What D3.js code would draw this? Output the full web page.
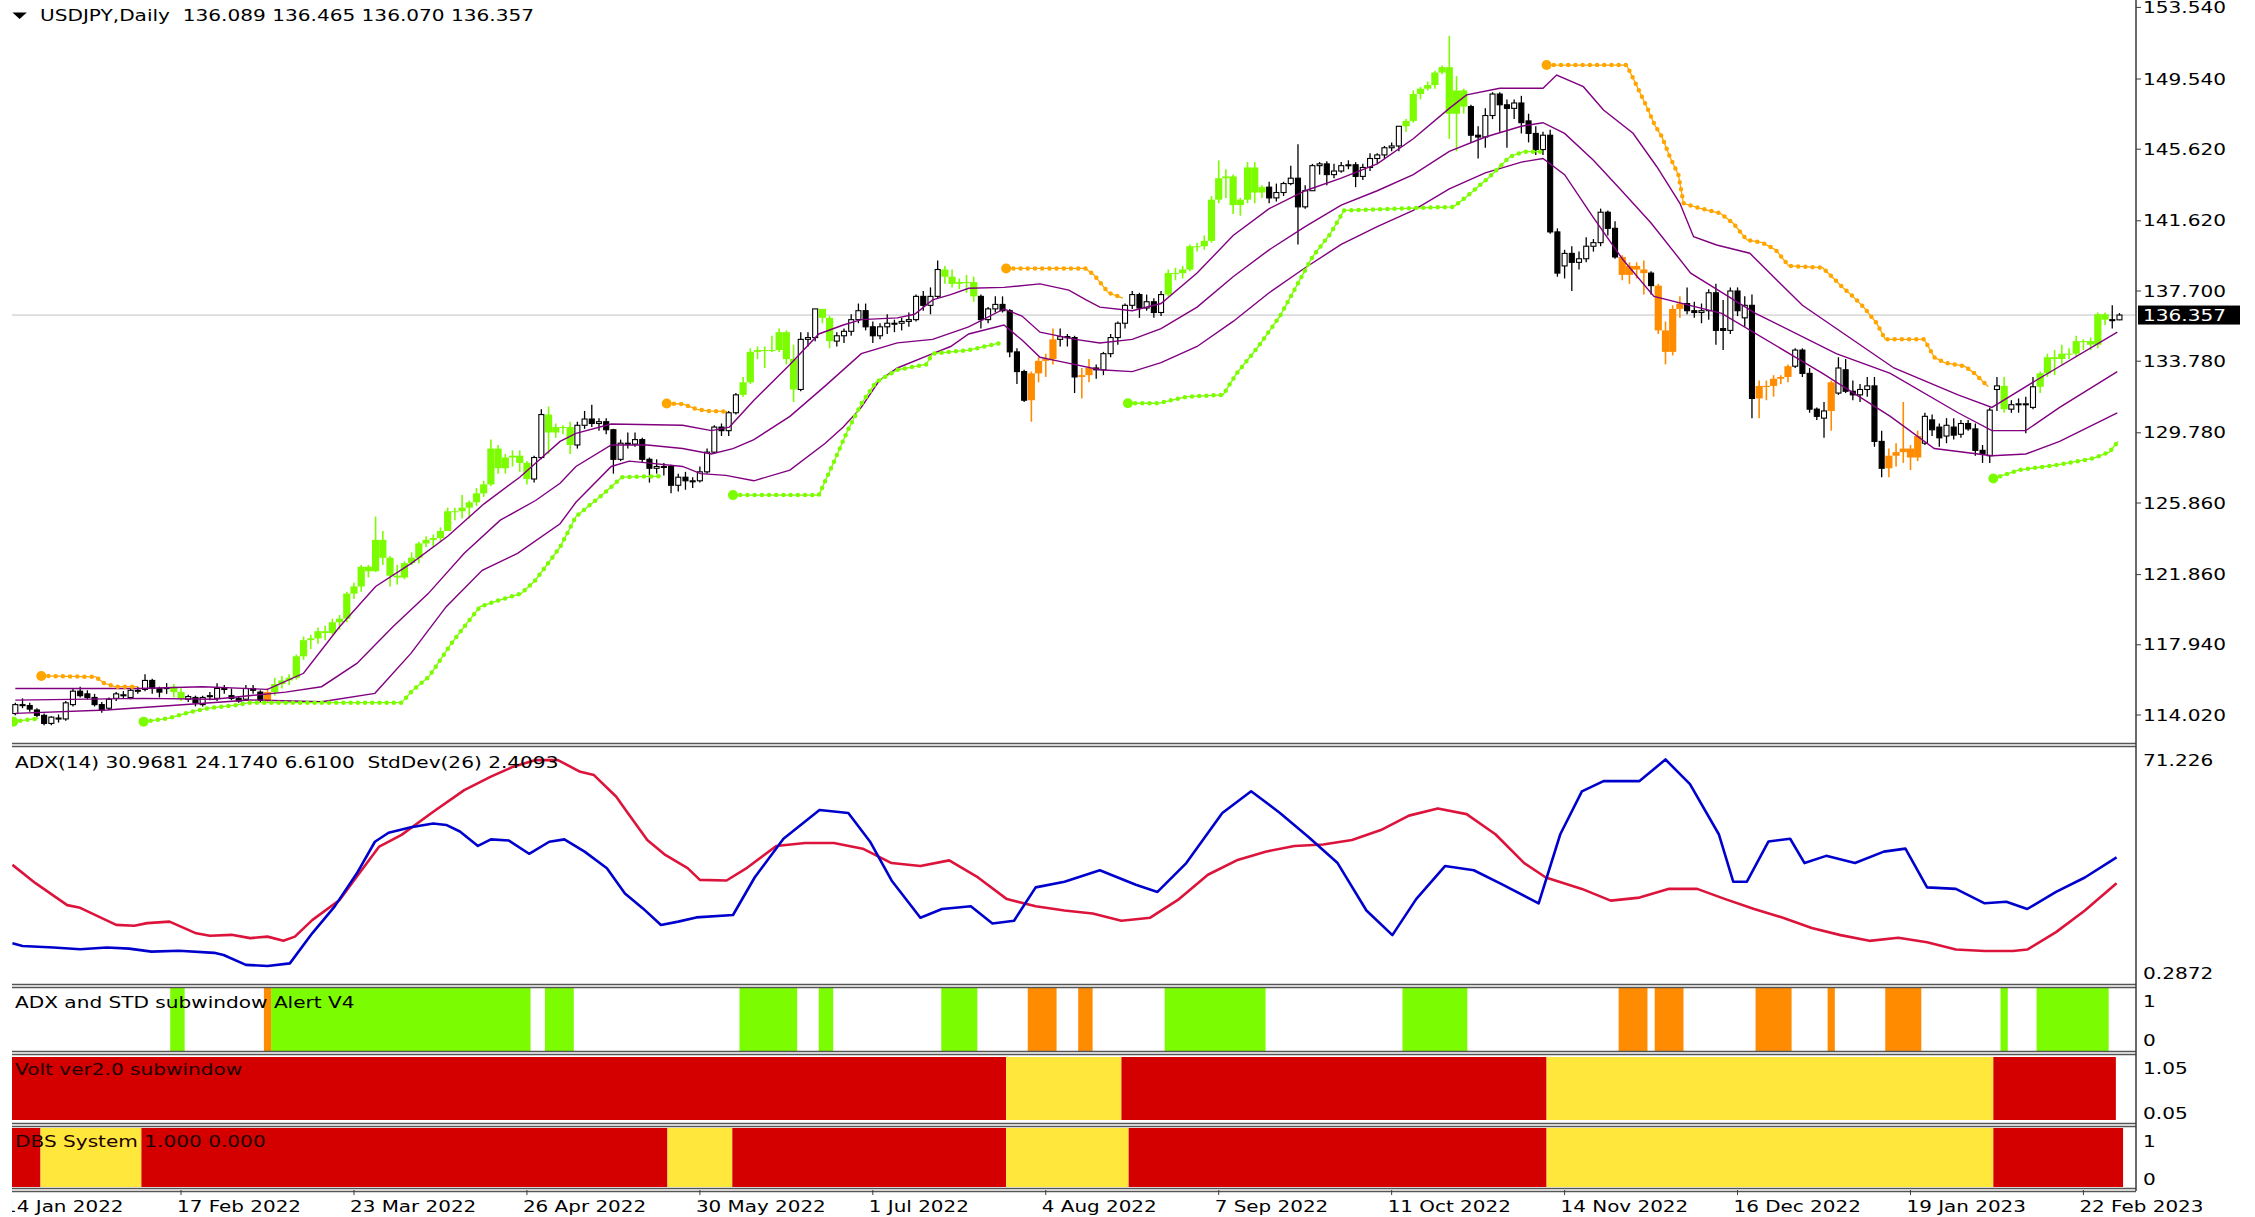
<!DOCTYPE html>
<html lang="en">
<head>
<meta charset="UTF-8">
<title>USDJPY,Daily</title>
<script src="https://d3js.org/d3.v7.min.js"></script>
<style>
  body { margin: 0; background: #fff; }
  svg text { font-family: "DejaVu Sans", Verdana, sans-serif; white-space: pre; }
</style>
</head>
<body>
<div id="chart"></div>
<script>
// ---- price bars, first bar index = 1 (17 Jan 2022), last = 293 (1 Mar 2023)
const opens = [
114.10,114.60,114.55,114.30,114.00,113.55,113.85,113.80,114.60,115.35,
115.20,115.00,114.60,114.40,114.95,115.15,115.00,115.40,115.45,115.95,
115.50,115.50,115.60,115.30,114.90,115.00,114.60,115.10,114.95,115.50,
115.10,114.95,114.90,115.50,115.30,114.85,115.30,115.75,115.95,116.10,
117.30,118.20,118.30,118.70,118.60,119.20,119.40,120.80,121.20,122.30,
122.05,123.80,122.80,121.80,121.70,122.50,122.80,123.60,123.80,123.90,
124.30,125.40,125.40,125.60,125.90,126.40,126.90,128.90,127.80,128.40,
128.50,128.10,127.20,128.40,130.80,129.80,130.10,130.10,129.10,130.20,
130.55,130.30,130.40,129.95,128.30,129.20,129.15,129.40,128.30,127.80,
127.90,127.90,126.85,127.30,127.10,127.10,127.60,128.70,130.10,129.90,
130.90,131.90,132.60,134.30,134.40,134.40,134.40,135.40,133.90,132.20,
135.00,135.10,136.70,136.20,134.90,135.20,135.45,136.10,136.60,135.70,
135.20,135.70,135.90,135.90,136.00,136.10,137.40,136.90,137.40,138.90,
138.50,138.10,138.20,138.20,137.40,136.10,136.70,136.95,136.60,134.30,
133.20,131.60,133.10,133.80,133.90,135.00,135.15,135.10,132.90,133.00,
133.40,133.30,134.20,135.10,135.90,136.90,137.50,136.75,137.10,136.50,
137.50,138.70,138.70,138.90,140.20,140.20,140.50,142.80,144.00,144.10,
142.50,142.80,144.60,143.20,143.50,142.90,143.20,143.70,144.00,142.40,
143.30,144.70,144.80,144.20,144.40,144.70,144.75,144.10,144.60,145.10,
145.30,145.70,145.80,146.90,147.20,148.70,149.00,149.20,149.90,150.20,
147.60,148.90,148.00,146.40,146.30,147.50,148.70,148.10,147.90,148.20,
147.20,146.50,145.60,146.40,141.00,139.10,139.80,139.30,139.50,140.20,
140.40,142.10,141.20,139.60,138.60,139.10,138.90,138.70,138.00,135.50,
134.30,136.70,137.00,136.60,136.50,136.60,137.60,135.60,135.50,137.70,
136.20,136.90,131.70,132.40,132.40,132.80,132.90,133.50,134.40,133.10,
131.10,130.60,131.00,132.00,133.30,132.10,131.90,132.20,132.40,129.30,
127.80,128.50,128.70,128.90,128.40,129.20,130.50,130.10,129.60,130.10,
129.70,130.30,130.00,128.80,128.50,132.20,132.40,131.10,131.35,131.40,
131.20,132.35,133.10,134.00,133.90,134.20,134.20,134.90,134.90,134.70,
136.40,136.10,136.089];
const highs = [
114.70,114.95,114.70,114.40,114.10,113.95,114.05,114.80,115.50,115.60,
115.40,115.20,114.75,115.00,115.30,115.35,115.50,115.60,116.30,116.05,
115.60,115.80,115.75,115.50,115.15,115.10,115.10,115.30,115.80,115.70,
115.50,115.05,115.70,115.70,115.40,115.50,116.10,116.20,116.30,117.40,
118.40,118.50,118.90,119.00,119.40,119.60,120.90,121.40,122.40,122.40,
125.10,124.30,122.90,122.40,122.60,123.10,123.70,124.00,124.10,124.50,
125.60,125.60,126.30,126.00,126.70,127.10,129.40,129.10,128.60,128.80,
128.80,128.20,128.50,131.10,131.25,130.30,130.20,130.40,130.40,131.00,
131.35,130.60,130.60,130.00,129.40,129.80,129.80,129.50,128.40,128.30,
128.10,128.00,127.50,127.60,127.30,127.90,128.90,130.20,130.30,131.00,
132.00,132.90,134.50,134.60,134.60,135.20,135.60,135.50,134.70,135.40,
135.40,136.70,136.70,136.30,135.40,135.60,136.40,137.00,137.00,136.00,
135.90,136.40,136.10,136.20,136.50,137.50,137.70,137.90,139.40,139.10,
138.90,138.40,138.60,138.50,137.50,136.80,137.40,137.40,136.70,134.50,
133.30,133.20,134.00,134.20,135.60,135.60,135.30,135.20,133.40,133.90,
133.60,134.30,135.30,136.00,137.00,137.70,137.60,137.50,137.30,137.70,
138.90,139.00,139.10,140.30,140.40,140.80,143.00,144.99,144.50,144.20,
142.90,144.90,144.90,143.60,143.80,143.70,143.80,144.70,145.90,143.60,
144.80,144.90,144.95,144.80,144.90,145.00,144.90,144.80,145.40,145.40,
145.80,146.00,146.90,147.30,148.90,149.10,149.40,150.00,150.30,151.95,
149.70,149.00,148.10,146.90,147.90,148.80,148.80,148.40,148.40,148.60,
147.60,146.90,146.60,146.70,141.20,140.00,140.20,139.90,140.70,140.60,
142.30,142.20,141.60,139.70,139.30,139.30,139.40,138.80,138.10,136.00,
136.90,137.40,137.90,137.10,137.00,137.80,138.10,137.20,137.90,137.90,
137.40,137.50,132.70,132.70,133.00,133.00,133.60,134.50,134.50,133.40,
131.20,131.50,132.70,134.00,133.90,132.70,132.50,132.90,132.90,129.90,
128.90,129.20,131.50,129.10,129.90,130.90,130.80,130.30,130.60,130.60,
130.50,130.50,130.30,129.10,131.20,132.90,132.90,131.60,131.70,131.80,
132.90,133.20,134.20,134.40,134.70,134.50,135.20,135.00,135.10,136.50,
136.50,136.90,136.465];
const lows = [
114.00,114.40,114.20,113.90,113.45,113.45,113.60,113.70,114.50,115.00,
114.90,114.50,114.15,114.30,114.80,114.95,114.90,115.20,115.35,115.20,
115.00,115.20,115.00,114.80,114.75,114.50,114.50,114.85,114.80,115.20,
114.85,114.70,114.80,115.20,114.70,114.70,115.10,115.50,115.70,116.00,
117.10,117.70,118.00,118.20,118.50,118.80,119.20,120.50,120.90,121.70,
122.00,122.40,121.20,121.30,121.60,122.40,122.50,123.40,123.40,123.70,
124.30,124.90,125.00,125.00,125.70,126.20,126.80,127.50,127.50,127.90,
127.60,126.90,127.00,128.30,128.60,129.50,129.70,128.60,128.90,130.00,
130.10,129.90,129.70,127.50,128.20,128.90,129.00,128.10,127.00,127.50,
127.40,126.40,126.50,126.60,126.70,127.00,127.50,128.60,129.60,129.60,
130.80,131.80,132.50,133.90,133.40,134.30,134.30,133.60,131.50,132.10,
134.60,134.90,135.90,134.50,134.60,134.80,135.20,135.90,135.50,134.80,
135.00,135.30,135.40,135.50,135.70,136.00,136.60,136.40,137.30,138.10,
137.90,137.80,137.60,137.10,135.60,135.90,136.50,136.50,134.00,132.50,
131.50,130.40,132.60,132.90,133.60,134.60,134.60,132.00,131.70,132.60,
132.80,133.00,134.00,134.70,135.60,136.70,136.20,136.60,136.20,136.30,
137.40,138.30,138.40,138.80,139.90,140.00,140.40,142.60,142.90,142.00,
141.90,142.60,142.60,142.90,142.60,142.70,143.00,143.60,140.30,142.30,
143.30,144.20,143.60,144.00,144.30,144.50,143.50,143.90,144.40,144.80,
145.10,145.50,145.50,146.60,147.10,148.40,148.90,149.00,149.80,146.20,
145.50,147.60,146.00,145.10,145.70,147.30,146.60,145.70,147.30,146.50,
146.00,145.30,145.30,140.90,138.50,138.40,137.70,138.90,139.30,139.90,
140.20,140.80,139.50,138.30,138.10,138.40,137.50,137.50,135.30,133.60,
134.10,136.20,136.40,136.20,135.90,136.10,134.70,134.40,135.30,136.30,
135.70,130.60,130.60,131.60,131.80,132.50,132.60,133.40,132.90,130.90,
130.50,129.50,129.90,131.90,132.00,131.60,131.50,131.80,129.00,127.30,
127.30,127.90,128.10,127.70,128.20,129.10,129.60,129.00,129.20,129.40,
129.50,129.90,128.50,128.10,128.10,131.00,130.90,130.90,130.90,129.75,
131.10,132.00,132.90,133.00,133.60,133.90,134.00,134.40,134.40,134.50,
135.80,135.60,136.070];
const closes = [
114.60,114.60,114.35,114.00,113.55,113.90,113.80,114.70,115.35,115.10,
115.00,114.60,114.30,114.90,115.20,115.15,115.40,115.40,115.95,115.50,
115.30,115.55,115.30,114.95,115.05,114.70,115.00,115.10,115.50,115.50,
114.95,114.80,115.50,115.40,114.85,115.30,115.75,115.95,116.10,117.30,
118.20,118.30,118.70,118.60,119.20,119.40,120.80,121.20,122.30,122.05,
123.80,122.80,121.80,121.70,122.50,122.80,123.60,123.80,123.90,124.30,
125.40,125.40,125.60,125.90,126.40,126.90,128.90,127.80,128.40,128.50,
128.10,127.20,128.40,130.80,129.80,130.10,130.10,129.10,130.20,130.55,
130.30,130.40,129.95,128.30,129.20,129.15,129.40,128.30,127.80,127.90,
127.90,126.85,127.30,127.10,127.10,127.60,128.70,130.10,129.90,130.90,
131.90,132.60,134.30,134.40,134.40,134.40,135.40,133.90,132.20,135.00,
135.10,136.70,136.20,134.90,135.20,135.45,136.10,136.60,135.70,135.20,
135.70,135.90,135.90,136.00,136.10,137.40,136.90,137.40,138.90,138.50,
138.10,138.20,138.20,137.40,136.10,136.70,136.95,136.60,134.30,133.20,
131.60,133.10,133.80,133.90,135.00,135.15,135.10,132.90,133.00,133.40,
133.30,134.20,135.10,135.90,136.90,137.50,136.75,137.10,136.50,137.50,
138.70,138.70,138.90,140.20,140.20,140.50,142.80,144.00,144.10,142.50,
142.80,144.60,143.20,143.50,142.90,143.20,143.70,144.00,142.40,143.30,
144.70,144.80,144.20,144.40,144.70,144.75,144.10,144.60,145.10,145.30,
145.70,145.80,146.90,147.20,148.70,149.00,149.20,149.90,150.20,147.60,
148.90,148.00,146.40,146.30,147.50,148.70,148.10,147.90,148.20,147.10,
146.50,145.60,146.40,141.00,138.70,139.80,139.30,139.50,140.20,140.40,
142.10,141.20,139.60,138.60,139.10,138.90,138.70,138.00,135.50,134.30,
136.70,137.00,136.60,136.50,136.60,137.60,135.50,135.50,137.70,136.60,
136.90,131.70,132.40,132.40,132.80,132.90,133.50,134.40,133.10,131.10,
130.70,131.00,132.60,133.40,132.10,131.90,132.20,132.40,129.30,127.80,
128.50,128.70,128.90,128.40,129.60,130.70,129.95,129.50,130.20,129.65,
130.30,130.00,128.80,128.60,131.05,132.40,131.10,131.35,131.40,131.40,
132.35,133.10,134.00,133.90,134.20,134.20,134.90,134.90,134.70,136.40,
136.10,136.10,136.357];

// candle colouring / alert histogram runs [firstBar, lastBar]
const greenRuns = [[23,24],[37,72],[75,78],[102,109],[113,114],[130,134],[161,174],[194,202],[277,277],[282,291]];
const orangeRuns = [[36,36],[142,145],[149,150],[224,227],[229,232],[243,247],[253,253],[261,265]];

// Volt ver2.0 and DBS System states: 1 = red, 0 = yellow
const voltRuns = [[1,138,1],[139,154,0],[155,213,1],[214,275,0],[276,292,1]];
const dbsRuns = [[1,4,1],[5,18,0],[19,91,1],[92,100,0],[101,138,1],[139,155,0],[156,213,1],[214,275,0],[276,293,1]];

// purple bands [bar, price]
const bandTop = [[1,115.5],[18,115.5],[27,115.6],[36,115.45],[41,116.35],[46,118.95],[51,121.2],[56,122.5],[61,124.0],[66,125.8],[71,127.3],[76.6,129.3],[78.8,129.75],[83.7,130.27],[93.6,130.2],[97.6,129.9],[100.1,130.1],[103.5,131.6],[108.5,133.6],[112.5,135.3],[115.9,135.8],[118.4,136.1],[123.4,136.2],[125.8,136.4],[128.3,137.2],[130.8,137.5],[133.3,137.85],[138.2,137.9],[143.2,138.1],[147.2,137.75],[149.6,137.2],[151.5,136.8],[156,136.6],[160,137.0],[165,138.7],[170,140.8],[175,142.3],[180,143.3],[185,144.0],[190,144.8],[195,146.2],[200,147.9],[202.4,148.65],[207,149.02],[213,149.02],[214.9,149.76],[218.6,149.11],[221.4,147.81],[225.5,146.51],[228.8,144.64],[232,142.6],[233.9,140.73],[237.1,140.27],[241.7,139.81],[249,136.9],[261.7,133.4],[270.6,131.9],[275.3,131.2],[281.4,132.7],[292.7,135.4]];
const bandMid = [[1,114.85],[18.7,114.95],[28.6,114.9],[38.5,115.3],[43.5,115.6],[48.4,116.9],[53.4,118.95],[58.3,120.8],[63.3,123.05],[68.3,124.9],[73.2,126.0],[76.6,126.96],[78.8,127.9],[83.7,129.1],[88.7,129.1],[93.6,128.9],[97.6,128.6],[100.6,128.9],[103.5,129.4],[108.5,130.7],[113.4,132.4],[118.4,134.2],[123.4,134.8],[128.3,135.0],[133.3,135.7],[138.2,136.7],[140.7,136.3],[143.2,135.4],[148.1,135.0],[151.5,134.8],[156,135.0],[160,135.6],[165,136.8],[170,138.5],[175,140.0],[180,141.3],[185,142.5],[190,143.3],[195,144.2],[200,145.5],[205,146.3],[210,146.9],[213,147.1],[216,146.5],[220,145.0],[223.7,143.4],[228,141.5],[233.5,138.7],[242.5,136.45],[253.7,134.2],[261.2,133.1],[270.6,130.9],[275.3,129.9],[280,129.9],[284.7,131.2],[292.7,133.2]];
const bandBot = [[1,114.11],[13.7,114.3],[23.7,114.58],[33.6,114.86],[43.5,114.76],[50.9,115.23],[55.9,117.46],[60.8,120.07],[65.8,122.1],[70.7,123.05],[76.6,124.7],[78.8,125.9],[83.7,127.9],[86.2,128.2],[88.7,128.1],[93.6,127.9],[96.1,127.5],[99.6,127.4],[103.5,127.1],[108.5,127.7],[113.4,129.2],[115.9,130.1],[118.4,131.2],[120.9,132.7],[123.4,133.4],[128.3,134.2],[130.8,134.6],[133.3,135.3],[138.2,135.8],[140.7,134.96],[143.2,134.0],[145.6,133.8],[151.5,133.3],[156,133.2],[160,133.7],[165,134.6],[170,136.0],[175,137.6],[180,139.0],[185,140.3],[190,141.3],[195,142.2],[200,143.4],[205,144.3],[210,144.9],[213,145.1],[216,144.2],[220,141.8],[224,139.5],[228.4,137.4],[237.8,136.45],[251.8,133.1],[261.2,130.7],[267.3,128.9],[275.3,128.5],[280,128.6],[284.7,129.3],[292.7,130.9]];

// trailing stop dots: below price (green) and above price (orange)
const stopUp = [
  [[0.7,113.65],[4.2,113.83]],
  [[18.8,113.65],[22.2,113.83],[25.4,114.2],[27.6,114.39],[31.8,114.58],[33.4,114.71],[54.6,114.71],[56.2,115.42],[58.4,116.16],[61.5,118.0],[63.3,118.95],[65.5,120.07],[68.2,120.44],[71.2,120.8],[73.2,121.56],[76.6,123.4],[78.8,125.1],[82.7,126.4],[85.2,127.3],[90.6,127.36]],
  [[100.6,126.3],[112.5,126.3],[114.5,128.07],[116.5,129.9],[118.4,131.4],[120.4,132.6],[123.4,133.3],[127.4,133.6],[128.3,134.2],[133.3,134.4],[137.7,134.8]],
  [[155.4,131.43],[159.6,131.43],[163.6,131.8],[168.6,131.9],[170.5,133.1],[173.5,134.6],[176.5,136.3],[178.5,137.76],[181,139.6],[183.5,140.9],[185.4,142.2],[200.6,142.4],[202.4,142.97],[205.6,144.08],[208.4,145.2],[210.3,145.48],[212.8,145.48]],
  [[275.5,127.23],[279,127.7],[284.6,128.0],[289.3,128.35],[291.6,128.7],[292.8,129.3]]
];
const stopDown = [
  [[4.6,116.2],[12.2,116.15],[13.2,115.82],[14.8,115.6],[18.0,115.6]],
  [[91.4,131.42],[93.6,131.39],[94.6,131.24],[95.6,131.09],[97.1,131.0],[99.8,130.96]],
  [[138.5,138.96],[149.5,138.96],[150.7,138.6],[152.7,137.6],[154.7,137.3]],
  [[213.5,150.32],[224.6,150.32],[225.5,149.58],[226.5,148.74],[227.6,147.81],[228.5,146.97],[229.5,146.32],[230.6,145.2],[231.8,144.18],[232.5,142.6],[234.8,142.32],[237.6,142.04],[239.4,141.48],[241.3,140.55],[243.4,140.4],[245.3,140.0],[247.1,139.1],[251.8,139.0],[254.6,137.9],[256,137.4],[257.5,136.8],[259.3,135.9],[260.5,135.0],[265.9,135.0],[267.3,134.0],[268.7,133.7],[271.5,133.5],[272.9,133.1],[274.8,132.35]]
];

// ADX subwindow lines [bar, value]
const adxRed = [[0.6,36.3],[3.8,30.2],[8.2,22.9],[10,22.0],[15,16.3],[17.5,16.0],[19.3,16.9],[22.4,17.4],[26.1,13.5],[28,12.7],[31,13.0],[33.6,11.9],[36,12.4],[38.2,11.0],[39.8,12.4],[42.2,17.9],[46,24.6],[48.4,32.4],[51.5,42.4],[54.6,46.3],[59,54.0],[63.3,61.2],[67,65.7],[70.1,69.0],[73.2,71.2],[76.3,71.2],[79.4,67.3],[81.3,66.2],[84.4,59.0],[85.7,54.6],[88.7,44.6],[91.2,39.6],[94.3,35.2],[96,31.3],[99.7,31.1],[102.6,35.4],[106.6,42.6],[110.6,43.6],[114.6,43.6],[118.6,41.7],[122.6,36.9],[126.6,35.9],[130.6,37.8],[134.6,32.1],[138.6,24.9],[142.6,22.5],[146.6,21.1],[150.5,20.1],[154.5,17.7],[158.5,18.7],[162.5,24.9],[166.5,33.0],[170.5,37.8],[174.5,40.7],[178.5,42.6],[182.5,43.1],[186.5,44.6],[190.5,47.9],[194.4,52.7],[198.4,55.1],[202.4,53.2],[206.4,46.5],[210.4,36.9],[213.4,32.1],[218.4,28.3],[222.4,24.4],[226.4,25.4],[230.4,28.3],[234.4,28.3],[238.3,24.9],[242.3,21.6],[246.3,18.7],[250.3,15.3],[254.3,12.9],[258.3,11.0],[262.3,12.0],[266.3,10.5],[270.3,8.1],[274.3,7.6],[278.2,7.6],[280.2,8.1],[284.2,13.9],[288.2,21.1],[292.6,30.2]];
const adxBlue = [[0.6,10.2],[2,9.3],[6.3,8.8],[10,8.2],[13.7,8.8],[16.8,8.4],[19.9,7.4],[23.7,7.7],[28.6,7.0],[29.9,6.3],[33,3.0],[36,2.6],[39.1,3.5],[42.2,13.5],[45.3,22.4],[48.4,33.5],[50.9,44.0],[52.8,47.0],[55.9,48.8],[59,50.1],[60.8,49.6],[62.7,47.4],[65.2,42.6],[67,44.8],[69.5,44.4],[72.3,40.0],[75.1,44.0],[77.2,44.8],[80,40.7],[83.1,35.2],[85.6,26.8],[88.1,21.8],[90.6,16.3],[93,17.4],[95.5,18.8],[100.6,19.6],[103.6,32.1],[107.6,45.0],[112.6,54.6],[116.6,53.6],[119.6,44.1],[122.6,31.1],[126.6,18.7],[129.6,21.6],[133.6,22.5],[136.6,16.8],[139.6,17.7],[142.6,28.8],[146.6,30.7],[151.5,34.5],[156.5,29.7],[159.5,27.3],[163.5,36.9],[168.5,53.6],[172.5,60.8],[176.5,53.6],[180.5,45.5],[184.5,36.9],[188.5,21.1],[192.1,12.9],[195.4,24.9],[199.4,35.9],[203.4,34.5],[207.4,29.7],[212.4,23.5],[215.4,46.5],[218.4,60.8],[221.4,64.2],[226.4,64.2],[230,71.4],[233.4,63.2],[237.4,46.5],[239.4,30.7],[241.3,30.7],[244.3,44.1],[247.3,45.0],[249.3,36.9],[252.3,39.3],[256.3,36.9],[260.3,40.7],[263.3,41.7],[266.3,28.8],[270.3,28.3],[274.3,23.5],[277.3,24.0],[280.2,21.6],[284.2,27.3],[288.2,32.1],[292.6,38.8]];

// axis labels
const priceTicks = [153.540,149.540,145.620,141.620,137.700,133.780,129.780,125.860,121.860,117.940,114.020];
const dateTickBars = [0,24,48,72,96,120,144,168,192,216,240,264,288];
const dateTickLabels = ["14 Jan 2022","17 Feb 2022","23 Mar 2022","26 Apr 2022","30 May 2022","1 Jul 2022","4 Aug 2022","7 Sep 2022","11 Oct 2022","14 Nov 2022","16 Dec 2022","19 Jan 2023","22 Feb 2023"];
const lastPrice = 136.357;

const W = 2255, H = 1217;
const left = 12, right = 2136;
const SX = 1.34;

const x = d3.scaleLinear().domain([0, 293]).range([8.1, 8.1 + 7.206 * 293]);
const half = 7.206 / 2;
const y = d3.scaleLinear().domain([114.02, 149.54]).range([715, 79]);
const yAdx = d3.scaleLinear().domain([0.2872, 71.226]).range([973, 760]);
const yAlert = d3.scaleLinear().domain([0, 1]).range([1040, 1001.7]);
const yVolt = d3.scaleLinear().domain([0.05, 1.05]).range([1113, 1068]);
const yDbs = d3.scaleLinear().domain([0, 1]).range([1179, 1141.7]);

const panels = {
  main: [0, 743],
  adx: [747, 984],
  alert: [988, 1051],
  volt: [1055, 1123],
  dbs: [1127, 1188]
};

const svg = d3.select("#chart").append("svg")
  .attr("width", W).attr("height", H).style("display", "block");
svg.append("rect").attr("width", W).attr("height", H).attr("fill", "#fff");

const defs = svg.append("defs");
Object.entries(panels).forEach(([k, [y0, y1]]) => {
  defs.append("clipPath").attr("id", "clip-" + k)
    .append("rect").attr("x", left).attr("y", y0).attr("width", right - left).attr("height", y1 - y0);
});

function label(g, px, py, s, o = {}) {
  return g.append("text")
    .attr("transform", `translate(${px},${py}) scale(${o.sx || SX},1)`)
    .attr("text-anchor", o.anchor || "start")
    .attr("fill", o.fill || "#000")
    .style("font-size", (o.size || 15) + "px")
    .text(s);
}

const inRuns = (runs, i) => runs.some(r => i >= r[0] && i <= r[1]);

// ---------- main panel
const main = svg.append("g").attr("clip-path", "url(#clip-main)");

// current price line
main.append("line")
  .attr("x1", left).attr("x2", right).attr("y1", y(lastPrice)).attr("y2", y(lastPrice))
  .attr("stroke", "#c0c0c0").attr("stroke-width", 1);

const bars = closes.map((c, k) => ({ i: k + 1, o: opens[k], h: highs[k], l: lows[k], c: c }));
bars.forEach(b => {
  b.col = inRuns(greenRuns, b.i) ? "#7CFC00" : inRuns(orangeRuns, b.i) ? "#FF8C00" : null;
});

main.append("g").selectAll("line").data(bars).join("line")
  .attr("x1", d => x(d.i)).attr("x2", d => x(d.i))
  .attr("y1", d => y(Math.max(d.h, d.o, d.c))).attr("y2", d => y(Math.min(d.l, d.o, d.c)))
  .attr("stroke", d => d.col || "#000")
  .attr("stroke-width", d => d.col ? 1.6 : 1.3);

main.append("g").selectAll("rect").data(bars).join("rect")
  .attr("x", d => d.col ? x(d.i) - half : x(d.i) - 2.5)
  .attr("width", d => d.col ? 7.206 : 5)
  .attr("y", d => y(Math.max(d.o, d.c)))
  .attr("height", d => Math.max(1, Math.abs(y(d.o) - y(d.c))))
  .attr("fill", d => d.col || (d.c >= d.o ? "#fff" : "#000"))
  .attr("stroke", d => d.col ? "none" : "#000")
  .attr("stroke-width", 1.1);

// bands
const bandLine = d3.line().x(d => x(d[0])).y(d => y(d[1]));
[bandTop, bandMid, bandBot].forEach(b => {
  main.append("path").attr("d", bandLine(b))
    .attr("fill", "none").attr("stroke", "#800080").attr("stroke-width", 1.4);
});

// trailing stop dots
function stops(segs, color) {
  segs.forEach(seg => {
    main.append("path").attr("d", bandLine(seg))
      .attr("fill", "none").attr("stroke", color).attr("stroke-width", 1.3);
    main.append("path").attr("d", bandLine(seg))
      .attr("fill", "none").attr("stroke", color).attr("stroke-width", 4.5)
      .attr("stroke-linecap", "round").attr("stroke-dasharray", "0 7.206");
    main.append("circle").attr("cx", x(seg[0][0])).attr("cy", y(seg[0][1]))
      .attr("r", 5).attr("fill", color);
  });
}
stops(stopUp, "#7CFC00");
stops(stopDown, "#FFA500");

// ---------- ADX panel
const adxG = svg.append("g").attr("clip-path", "url(#clip-adx)");
const adxLine = d3.line().x(d => x(d[0])).y(d => yAdx(d[1]));
adxG.append("path").attr("d", adxLine(adxRed)).attr("fill", "none")
  .attr("stroke", "#DC143C").attr("stroke-width", 2.6).attr("stroke-linejoin", "round");
adxG.append("path").attr("d", adxLine(adxBlue)).attr("fill", "none")
  .attr("stroke", "#0000CD").attr("stroke-width", 2.6).attr("stroke-linejoin", "round");

// ---------- Alert panel
const alertG = svg.append("g").attr("clip-path", "url(#clip-alert)");
function runBars(g, runs, color, y0, y1) {
  g.selectAll(null).data(runs).join("rect")
    .attr("x", d => x(d[0]) - half)
    .attr("width", d => x(d[1]) - x(d[0]) + 7.206)
    .attr("y", y0).attr("height", y1 - y0)
    .attr("fill", typeof color === "function" ? color : () => color);
}
runBars(alertG, greenRuns, "#7CFC00", panels.alert[0], panels.alert[1]);
runBars(alertG, orangeRuns, "#FF8C00", panels.alert[0], panels.alert[1]);

// ---------- Volt / DBS panels
const stateColor = d => d[2] === 1 ? "#D40000" : "#FFE83B";
runBars(svg.append("g").attr("clip-path", "url(#clip-volt)"), voltRuns, stateColor, 1057, 1120);
runBars(svg.append("g").attr("clip-path", "url(#clip-dbs)"), dbsRuns, stateColor, 1128, 1187);

// ---------- separators and right frame
const frame = svg.append("g");
[743.5, 984.5, 1051.5, 1123.5, 1188.5].forEach(v => {
  frame.append("line").attr("x1", left).attr("x2", right).attr("y1", v).attr("y2", v)
    .attr("stroke", "#555").attr("stroke-width", 1.5);
  frame.append("line").attr("x1", left).attr("x2", right).attr("y1", v + 3).attr("y2", v + 3)
    .attr("stroke", "#555").attr("stroke-width", 1.5);
});
frame.append("line").attr("x1", right).attr("x2", right).attr("y1", 0).attr("y2", 1191)
  .attr("stroke", "#3a3a3a").attr("stroke-width", 1.5);

// ---------- right axis labels
const axisG = svg.append("g");
priceTicks.forEach(v => {
  axisG.append("line").attr("x1", right).attr("x2", right + 5).attr("y1", y(v)).attr("y2", y(v))
    .attr("stroke", "#3a3a3a");
  label(axisG, 2143, y(v) + 5.5, v.toFixed(3));
});
[[71.226, "71.226"], [0.2872, "0.2872"]].forEach(([v, s]) => label(axisG, 2143, yAdx(v) + 5.5, s));
[[1, "1"], [0, "0"]].forEach(([v, s]) => label(axisG, 2143, yAlert(v) + 5.5, s));
[[1.05, "1.05"], [0.05, "0.05"]].forEach(([v, s]) => label(axisG, 2143, yVolt(v) + 5.5, s));
[[1, "1"], [0, "0"]].forEach(([v, s]) => label(axisG, 2143, yDbs(v) + 5.5, s));

// last price marker
axisG.append("rect").attr("x", 2138).attr("y", y(lastPrice) - 9.5).attr("width", 102).attr("height", 19).attr("fill", "#000");
label(axisG, 2143, y(lastPrice) + 5.5, lastPrice.toFixed(3), { fill: "#fff" });

// ---------- time axis
defs.append("clipPath").attr("id", "clip-time")
  .append("rect").attr("x", left).attr("y", 1189).attr("width", W - left).attr("height", 28);
const timeG = svg.append("g").attr("clip-path", "url(#clip-time)");
dateTickBars.forEach((b, k) => {
  timeG.append("line").attr("x1", x(b)).attr("x2", x(b)).attr("y1", 1190).attr("y2", 1195)
    .attr("stroke", "#3a3a3a");
  label(timeG, x(b) - 4, 1212, dateTickLabels[k], { sx: 1.33 });
});

// ---------- titles
const titles = svg.append("g");
titles.append("path").attr("d", "M12.5,12.5 L26.8,12.5 L19.6,19 Z").attr("fill", "#000");
label(titles, 40, 21, "USDJPY,Daily  136.089 136.465 136.070 136.357");
label(titles, 15, 768, "ADX(14) 30.9681 24.1740 6.6100  StdDev(26) 2.4093");
label(titles, 15, 1008, "ADX and STD subwindow Alert V4");
label(titles, 15, 1075, "Volt ver2.0 subwindow", { fill: "#200000" });
label(titles, 15, 1147, "DBS System 1.000 0.000", { fill: "#200000" });
</script>
</body>
</html>
